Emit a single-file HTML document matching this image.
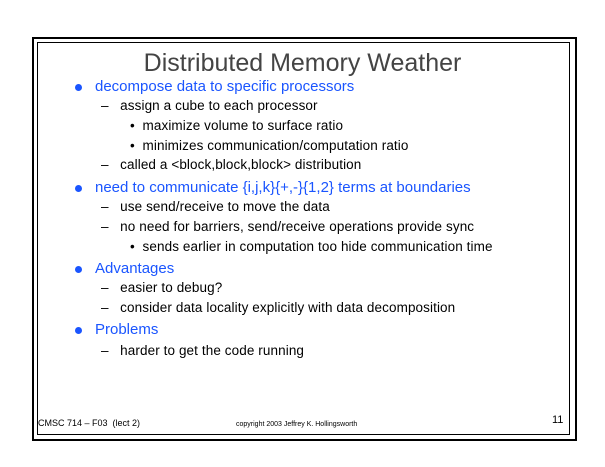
<!DOCTYPE html>
<html><head><style>
body{margin:0;background:#fff;width:605px;height:467px;position:relative;overflow:hidden;font-family:"Liberation Sans",sans-serif}
.o{position:absolute;left:32px;top:37px;width:541px;height:400px;border:2px solid #000;box-sizing:content-box}
.i{position:absolute;left:37px;top:42px;width:531px;height:391px;border:1px solid #000}
.t{position:absolute;white-space:nowrap;line-height:1}
.b{color:#1a55ff;font-size:15px}
.s{color:#000;font-size:13.5px;letter-spacing:0.1px}
.dot{position:absolute;width:7px;height:7px;border-radius:50%;background:#1a55ff}
</style></head><body>
<div class="o"></div><div class="i"></div>
<div class="t" style="left:0;width:605px;text-align:center;top:51px;font-size:25px;color:#444">Distributed Memory Weather</div>

<div class="dot" style="left:75px;top:84px"></div>
<div class="t b" style="left:95px;top:79px">decompose data to specific processors</div>
<div class="t s" style="left:101px;top:99px">–&nbsp;&nbsp; assign a cube to each processor</div>
<div class="t s" style="left:130px;top:119px">•&nbsp; maximize volume to surface ratio</div>
<div class="t s" style="left:130px;top:139px">•&nbsp; minimizes communication/computation ratio</div>
<div class="t s" style="left:101px;top:158px">–&nbsp;&nbsp; called a &lt;block,block,block&gt; distribution</div>

<div class="dot" style="left:75px;top:185px"></div>
<div class="t b" style="left:95px;top:180px">need to communicate {i,j,k}{+,-}{1,2} terms at boundaries</div>
<div class="t s" style="left:101px;top:200px">–&nbsp;&nbsp; use send/receive to move the data</div>
<div class="t s" style="left:101px;top:220px">–&nbsp;&nbsp; no need for barriers, send/receive operations provide sync</div>
<div class="t s" style="left:130px;top:240px">•&nbsp; sends earlier in computation too hide communication time</div>

<div class="dot" style="left:75px;top:266px"></div>
<div class="t b" style="left:95px;top:261px">Advantages</div>
<div class="t s" style="left:101px;top:281px">–&nbsp;&nbsp; easier to debug?</div>
<div class="t s" style="left:101px;top:301px">–&nbsp;&nbsp; consider data locality explicitly with data decomposition</div>

<div class="dot" style="left:75px;top:327px"></div>
<div class="t b" style="left:95px;top:322px">Problems</div>
<div class="t s" style="left:101px;top:344px">–&nbsp;&nbsp; harder to get the code running</div>

<div class="t" style="left:38px;top:419px;font-size:9px">CMSC 714 – F03 &nbsp;(lect 2)</div>
<div class="t" style="left:236px;top:421px;font-size:7px">copyright 2003 Jeffrey K. Hollingsworth</div>
<div class="t" style="left:552px;top:415px;font-size:11px">11</div>
</body></html>
